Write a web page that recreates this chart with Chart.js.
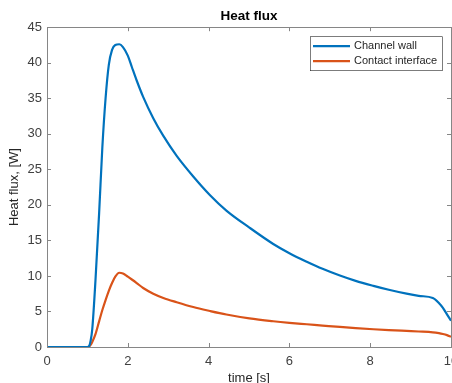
<!DOCTYPE html>
<html>
<head>
<meta charset="utf-8">
<script src="https://cdn.jsdelivr.net/npm/chart.js@4.4.0/dist/chart.umd.min.js"></script>
<style>
html, body { margin: 0; padding: 0; background: #fff; overflow: hidden; }
#wrap { width: 452px; height: 383px; overflow: hidden; }
</style>
</head>
<body>
<div id="wrap"><canvas id="grafico" width="470" height="388"></canvas></div>
<script>
// tempo [s] e fluxos
const tempo = [0, 0.5, 1.0, 1.04, 1.08, 1.12, 1.2, 1.29, 1.37, 1.45, 1.53, 1.61, 1.69, 1.79, 1.88, 2.0, 2.1, 2.22, 2.38, 2.63, 2.88, 3.21, 3.62, 4.03, 4.44, 5.01, 5.6, 6.0, 6.43, 6.82, 7.25, 7.64, 8.08, 8.46, 8.9, 9.2, 9.55, 9.7, 9.8, 9.9, 10];
const paredeCanal = [0, 0, 0, 0.1, 0.9, 2.5, 9.4, 18.8, 28.1, 35.0, 39.7, 41.8, 42.5, 42.6, 42.2, 41.0, 39.4, 37.5, 35.2, 32.2, 29.7, 26.9, 24.0, 21.4, 19.2, 16.8, 14.5, 13.2, 12.0, 11.0, 10.05, 9.3, 8.6, 8.05, 7.5, 7.2, 6.9, 6.2, 5.5, 4.6, 3.7];
const interfaceContato = [0, 0, 0, 0.05, 0.3, 0.7, 1.8, 3.6, 5.2, 6.6, 7.9, 9.0, 9.9, 10.45, 10.35, 9.9, 9.5, 9.0, 8.3, 7.5, 6.9, 6.3, 5.62, 5.07, 4.57, 4.02, 3.62, 3.4, 3.2, 3.02, 2.82, 2.66, 2.5, 2.38, 2.26, 2.18, 2.07, 1.95, 1.83, 1.67, 1.45];
const nomesSeries = ['Channel wall', 'Contact interface'];
const coresSeries = ['#0072BD', '#D95319'];

Chart.defaults.font.family = '"Liberation Sans", Arial, sans-serif';
Chart.defaults.color = '#262626';

const pontos = (vals) => tempo.map((t, i) => ({ x: t, y: vals[i] }));

const marcoEixos = {
    id: 'marcoEixos',
    afterDatasetsDraw(chart) {
        const { ctx, chartArea: a, scales: { x, y } } = chart;
        ctx.save();
        ctx.strokeStyle = '#868686';
        ctx.lineWidth = 1;
        ctx.beginPath();
        x.ticks.forEach(t => {
            const px = Math.round(x.getPixelForValue(t.value)) + 0.5;
            ctx.moveTo(px, a.bottom); ctx.lineTo(px, a.bottom - 4);
            ctx.moveTo(px, a.top); ctx.lineTo(px, a.top + 4);
        });
        y.ticks.forEach(t => {
            const py = Math.round(y.getPixelForValue(t.value)) + 0.5;
            ctx.moveTo(a.left, py); ctx.lineTo(a.left + 4, py);
            ctx.moveTo(a.right, py); ctx.lineTo(a.right - 4, py);
        });
        ctx.stroke();
        ctx.strokeRect(Math.round(a.left) + 0.5, Math.round(a.top) + 0.5,
            Math.round(a.right - a.left), Math.round(a.bottom - a.top));

        // legenda
        const lx = a.right - 141, ly = a.top + 9;
        ctx.fillStyle = '#fff';
        ctx.fillRect(lx, ly, 132, 34);
        ctx.strokeStyle = '#262626';
        ctx.lineWidth = 0.6;
        ctx.strokeRect(lx + 0.5, ly + 0.5, 132, 34);
        ctx.font = '11px "Liberation Sans", Arial, sans-serif';
        ctx.textBaseline = 'middle';
        chart.data.datasets.forEach((ds, i) => {
            const yy = ly + 10 + i * 15;
            ctx.strokeStyle = ds.borderColor;
            ctx.lineWidth = 2.2;
            ctx.beginPath();
            ctx.moveTo(lx + 3, yy); ctx.lineTo(lx + 40, yy);
            ctx.stroke();
            ctx.fillStyle = '#262626';
            ctx.fillText(ds.label, lx + 44, yy);
        });
        ctx.restore();
    }
};

new Chart(document.getElementById('grafico'), {
    type: 'line',
    data: {
        datasets: [
            { label: nomesSeries[0], data: pontos(paredeCanal), borderColor: coresSeries[0], borderWidth: 2.2, pointRadius: 0, cubicInterpolationMode: 'monotone' },
            { label: nomesSeries[1], data: pontos(interfaceContato), borderColor: coresSeries[1], borderWidth: 2.2, pointRadius: 0, cubicInterpolationMode: 'monotone' }
        ]
    },
    options: {
        responsive: false,
        animation: false,
        layout: { padding: { right: 19, left: 0, top: 0, bottom: 0 } },
        plugins: {
            legend: { display: false },
            tooltip: { enabled: false },
            title: {
                display: true,
                text: 'Heat flux',
                fullSize: false,
                font: { size: 13.5, weight: 'bold' },
                color: '#000',
                padding: { top: 8, bottom: 3 }
            }
        },
        scales: {
            x: {
                type: 'linear',
                min: 0, max: 10,
                ticks: { stepSize: 2, padding: 7, font: { size: 13 }, color: '#404040', maxRotation: 0 },
                grid: { drawOnChartArea: false, drawTicks: false },
                border: { display: false },
                title: { display: true, text: 'time [s]', font: { size: 13 }, color: '#262626', padding: { top: 2, bottom: 2 } },
                afterFit: (s) => { s.height = 41; }
            },
            y: {
                min: 0, max: 45,
                ticks: { stepSize: 5, padding: 5, font: { size: 13 }, color: '#404040' },
                grid: { drawOnChartArea: false, drawTicks: false },
                border: { display: false },
                title: { display: true, text: 'Heat flux, [W]', font: { size: 13 }, color: '#262626', padding: { top: 7, bottom: 0 } },
                afterFit: (s) => { s.width = 47; }
            }
        }
    },
    plugins: [marcoEixos]
});
</script>
</body>
</html>
